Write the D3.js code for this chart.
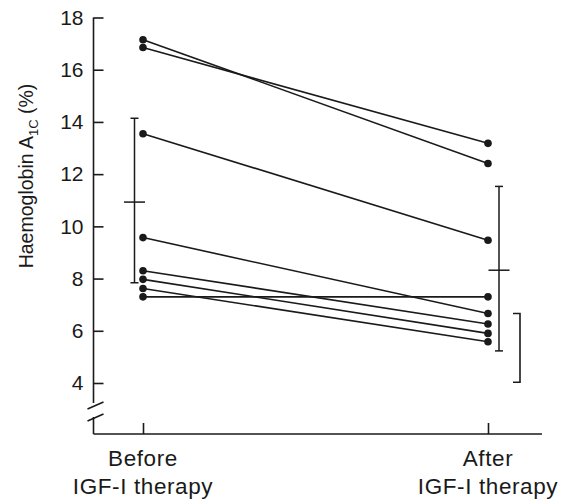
<!DOCTYPE html>
<html>
<head>
<meta charset="utf-8">
<script src="https://cdn.jsdelivr.net/npm/d3@7"></script>
<style>
  html, body { margin: 0; padding: 0; background: #fff; }
  svg { display: block; font-family: "Liberation Sans", Arial, sans-serif; }
</style>
</head>
<body>
<svg id="chart" width="568" height="502"></svg>
<script>
// ---- data ----
const periods = ["Before", "After"];
const periodLabels = [["Before", "IGF-I therapy"], ["After", "IGF-I therapy"]];
const beforeValues = [17.15, 16.85, 13.55, 9.57, 8.3, 7.97, 7.62, 7.3];
const afterValues  = [12.41, 13.18, 9.47, 6.66, 6.26, 5.9, 5.58, 7.3];
const sdMean  = [10.93, 8.32];
const sdUpper = [14.14, 11.53];
const sdLower = [7.84, 5.23];
const normalRange = [4.03, 6.66];
const yTicks = [4, 6, 8, 10, 12, 14, 16, 18];

// ---- layout ----
const svg = d3.select("#chart");
const axisX = 93.5, baseY = 434;
const y = d3.scaleLinear().domain([4, 18]).range([383, 17.5]);
const x = d3.scalePoint().domain(periods).range([143, 488]);
const ink = "#1a1a1a";

// y axis ticks (inward) + labels
const yAxis = d3.axisLeft(y).tickValues(yTicks).tickSize(-10).tickPadding(10).tickFormat(d3.format("d"));
const gy = svg.append("g").attr("transform", `translate(${axisX},0)`).call(yAxis);
gy.select(".domain").remove();
gy.selectAll(".tick line").attr("stroke", ink).attr("stroke-width", 1.6);
gy.selectAll(".tick text").attr("fill", ink).style("font-size", "21px")
  .style("font-family", "'Liberation Sans', Arial, sans-serif");

// y axis line with break
const axisG = svg.append("g").attr("stroke", ink).attr("stroke-width", 1.6).attr("fill", "none");
axisG.append("line").attr("x1", axisX).attr("x2", axisX).attr("y1", y(18)).attr("y2", baseY - 31);
axisG.append("line").attr("x1", axisX).attr("x2", axisX).attr("y1", baseY - 17).attr("y2", baseY);
axisG.append("line").attr("x1", axisX - 6).attr("y1", baseY - 25).attr("x2", axisX + 10).attr("y2", baseY - 32);
axisG.append("line").attr("x1", axisX - 6).attr("y1", baseY - 13).attr("x2", axisX + 10).attr("y2", baseY - 20);

// x axis baseline + inward ticks
axisG.append("line").attr("x1", axisX).attr("x2", 542).attr("y1", baseY).attr("y2", baseY);
const xAxis = d3.axisBottom(x).tickSize(-11).tickFormat("");
const gx = svg.append("g").attr("transform", `translate(0,${baseY})`).call(xAxis);
gx.select(".domain").remove();
gx.selectAll(".tick line").attr("stroke", ink).attr("stroke-width", 1.6);

// x labels
periods.forEach((p, i) => {
  const t = svg.append("text").attr("text-anchor", "middle").attr("fill", ink)
    .style("font-size", "22.5px").style("letter-spacing", "0.6px");
  t.append("tspan").attr("x", x(p)).attr("y", 466).text(periodLabels[i][0]);
  t.append("tspan").attr("x", x(p)).attr("y", 494).text(periodLabels[i][1]);
});

// y axis title
const yt = svg.append("text").attr("transform", "translate(33,176) rotate(-90)")
  .attr("text-anchor", "middle").attr("fill", ink).style("font-size", "19.5px");
yt.append("tspan").text("Haemoglobin A");
yt.append("tspan").attr("dy", 5).style("font-size", "13px").text("1C");
yt.append("tspan").attr("dy", -5).text(" (%)");

// paired lines
const pairs = beforeValues.map((b, i) => [b, afterValues[i]]);
svg.append("g").selectAll("line").data(pairs).join("line")
  .attr("x1", x("Before")).attr("x2", x("After"))
  .attr("y1", d => y(d[0])).attr("y2", d => y(d[1]))
  .attr("stroke", ink).attr("stroke-width", 1.6);

// points
const pts = [];
beforeValues.forEach(v => pts.push(["Before", v]));
afterValues.forEach(v => pts.push(["After", v]));
svg.append("g").selectAll("circle").data(pts).join("circle")
  .attr("cx", d => x(d[0])).attr("cy", d => y(d[1])).attr("r", 3.8).attr("fill", ink);

// mean ± SD bars
const barOffsets = [-8.5, 11];
const ebG = svg.append("g").attr("stroke", ink).attr("stroke-width", 1.5);
periods.forEach((p, i) => {
  const cx = x(p) + barOffsets[i];
  ebG.append("line").attr("x1", cx).attr("x2", cx).attr("y1", y(sdUpper[i])).attr("y2", y(sdLower[i]));
  ebG.append("line").attr("x1", cx - 4).attr("x2", cx + 4).attr("y1", y(sdUpper[i])).attr("y2", y(sdUpper[i]));
  ebG.append("line").attr("x1", cx - 4).attr("x2", cx + 4).attr("y1", y(sdLower[i])).attr("y2", y(sdLower[i]));
  ebG.append("line").attr("x1", cx - 10.5).attr("x2", cx + 10.5).attr("y1", y(sdMean[i])).attr("y2", y(sdMean[i]));
});

// normal range bracket
const bx = x("After") + 32;
svg.append("path")
  .attr("d", `M${bx - 7},${y(normalRange[1])}H${bx}V${y(normalRange[0])}H${bx - 7}`)
  .attr("fill", "none").attr("stroke", ink).attr("stroke-width", 1.6);
</script>
</body>
</html>
